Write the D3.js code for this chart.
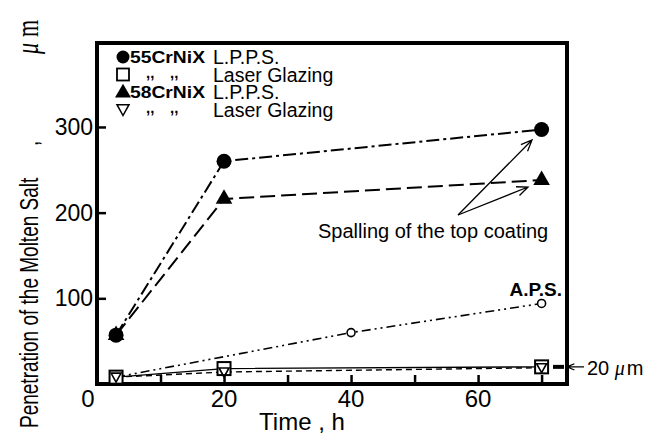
<!DOCTYPE html>
<html><head><meta charset="utf-8">
<script src="https://cdn.jsdelivr.net/npm/d3@7/dist/d3.min.js"></script>
<style>body{margin:0;background:#fff}svg{display:block}text{font-family:"Liberation Sans",Arial,Helvetica,sans-serif;fill:#000}</style>
</head><body><svg id="c" width="647" height="434"></svg>
<script>
// Data
const timesLPPS = [3, 20, 70];
const lpps55 = [57, 260, 297];
const lpps58 = [57, 216, 238];
const timesLaser = [3, 20, 70];
const laser55 = [8, 18, 20];
const laser58 = [8, 14, 19];
const timesAPS = [3, 40, 70];
const aps = [8, 60, 94];
const xTicks = [0, 10, 20, 30, 40, 50, 60, 70];
const xTickLabels = ["0", "", "20", "", "40", "", "60", ""];
const yTicks = [100, 200, 300];
const yTickLabels = ["100", "200", "300"];

const svg = d3.select("#c");
const L = 97, R = 567, T = 43, B = 384;
const x = d3.scaleLinear().domain([0, 74]).range([L, R]);
const y = d3.scaleLinear().domain([0, 398]).range([B, T]);

// frame
svg.append("rect").attr("x", L).attr("y", T).attr("width", R - L).attr("height", B - T)
  .attr("fill", "none").attr("stroke", "#000").attr("stroke-width", 4);

// x axis ticks (inward)
const xa = d3.axisTop(x).tickValues(xTicks).tickSize(9).tickFormat("");
const gx = svg.append("g").attr("transform", `translate(0,${B})`).call(xa);
gx.select(".domain").remove();
gx.selectAll(".tick line").attr("stroke-width", 2.5);
svg.selectAll(".xl").data(xTicks).enter().append("text")
  .attr("x", d => x(d) - (d === 0 ? 9 : 0)).attr("y", 407)
  .attr("text-anchor", "middle").attr("font-size", 24)
  .text((d, i) => xTickLabels[i]);

// y axis ticks (inward)
const ya = d3.axisRight(y).tickValues(yTicks).tickSize(9).tickFormat("");
const gy = svg.append("g").attr("transform", `translate(${L},0)`).call(ya);
gy.select(".domain").remove();
gy.selectAll(".tick line").attr("stroke-width", 2.5);
svg.selectAll(".yl").data(yTicks).enter().append("text")
  .attr("x", 93).attr("y", d => y(d) + 8)
  .attr("text-anchor", "end").attr("font-size", 23)
  .text((d, i) => yTickLabels[i]);

// axis titles
svg.append("text").attr("x", 302).attr("y", 430).attr("text-anchor", "middle")
  .attr("font-size", 24).text("Time , h");
const yt = svg.append("text").attr("transform", "translate(38,428) rotate(-90) scale(1,1.4)").attr("font-size", 19);
yt.append("tspan").text("Penetration of the Molten Salt");
yt.append("tspan").attr("x", 282).text(",");
yt.append("tspan").attr("x", 374).attr("font-size", 22).attr("font-family", "Liberation Serif,serif").attr("font-style", "italic").text("μ");
yt.append("tspan").attr("dx", 6).attr("font-size", 22).attr("font-family", "Liberation Serif,serif").text("m");

// lines
const line = (xs, ys) => d3.line().x((d, i) => x(xs[i])).y(d => y(d))(ys);
svg.append("path").attr("d", line(timesAPS, aps)).attr("fill", "none").attr("stroke", "#000")
  .attr("stroke-width", 1.6).attr("stroke-dasharray", "9,4,2,4,2,4");
svg.append("path").attr("d", line(timesLaser, laser55)).attr("fill", "none").attr("stroke", "#000")
  .attr("stroke-width", 1.4);
svg.append("path").attr("d", line(timesLaser, laser58)).attr("fill", "none").attr("stroke", "#000")
  .attr("stroke-width", 1.4).attr("stroke-dasharray", "6,4");
svg.append("path").attr("d", line(timesLPPS, lpps55)).attr("fill", "none").attr("stroke", "#000")
  .attr("stroke-width", 2).attr("stroke-dasharray", "13,4,3,4");
svg.append("path").attr("d", line(timesLPPS, lpps58)).attr("fill", "none").attr("stroke", "#000")
  .attr("stroke-width", 2).attr("stroke-dasharray", "15,6");

// markers
const sym = (type, size) => d3.symbol().type(type).size(size)();
const downTri = s => `M${-s/2},${-s*0.4}L${s/2},${-s*0.4}L0,${s*0.5}Z`;
svg.selectAll(".m58").data(lpps58).enter().append("path")
  .attr("transform", (d, i) => `translate(${x(timesLPPS[i])},${y(d)})`)
  .attr("d", sym(d3.symbolTriangle, 120)).attr("fill", "#000");
svg.selectAll(".m55").data(lpps55).enter().append("circle")
  .attr("cx", (d, i) => x(timesLPPS[i])).attr("cy", d => y(d)).attr("r", 7.5).attr("fill", "#000");
svg.selectAll(".ma").data(aps.slice(1)).enter().append("circle")
  .attr("cx", (d, i) => x(timesAPS[i + 1])).attr("cy", d => y(d)).attr("r", 4)
  .attr("fill", "#fff").attr("stroke", "#000").attr("stroke-width", 1.6);
svg.selectAll(".ms").data(laser55).enter().append("rect")
  .attr("x", (d, i) => x(timesLaser[i]) - 6.5).attr("y", d => y(d) - 6.5)
  .attr("width", 13).attr("height", 13).attr("fill", "#fff").attr("stroke", "#000").attr("stroke-width", 2);
svg.selectAll(".mt").data(laser58).enter().append("path")
  .attr("transform", (d, i) => `translate(${x(timesLaser[i])},${y(d)})`)
  .attr("d", downTri(10)).attr("fill", "none").attr("stroke", "#000").attr("stroke-width", 1.6);

// legend
const legRows = [57, 74.5, 92, 109.5];
const lx = 123;
svg.append("circle").attr("cx", lx).attr("cy", legRows[0]).attr("r", 6.5).attr("fill", "#000");
svg.append("rect").attr("x", lx - 6).attr("y", legRows[1] - 6).attr("width", 12).attr("height", 12)
  .attr("fill", "none").attr("stroke", "#000").attr("stroke-width", 1.8);
svg.append("path").attr("transform", `translate(${lx},${legRows[2] + 1})`).attr("d", sym(d3.symbolTriangle, 110)).attr("fill", "#000");
svg.append("path").attr("transform", `translate(${lx},${legRows[3]})`).attr("d", downTri(12))
  .attr("fill", "none").attr("stroke", "#000").attr("stroke-width", 1.5);
const legBold = ["55CrNiX", "", "58CrNiX", ""];
const legText = ["L.P.P.S.", "Laser Glazing", "L.P.P.S.", "Laser Glazing"];
legRows.forEach((ry, i) => {
  if (legBold[i]) svg.append("text").attr("x", 130).attr("y", ry + 6).attr("font-size", 17)
    .attr("font-weight", "bold").attr("textLength", 75).attr("lengthAdjust", "spacingAndGlyphs").text(legBold[i]);
  else {
    svg.append("text").attr("x", 146).attr("y", ry + 3).attr("font-size", 15).attr("font-weight", "bold").text(",,");
    svg.append("text").attr("x", 170).attr("y", ry + 3).attr("font-size", 15).attr("font-weight", "bold").text(",,");
  }
  svg.append("text").attr("x", 213).attr("y", ry + 7).attr("font-size", 19.5).text(legText[i]);
});

// annotations
svg.append("text").attr("x", 562).attr("y", 296).attr("text-anchor", "end")
  .attr("font-size", 19).attr("font-weight", "bold").text("A.P.S.");
svg.append("text").attr("x", 318).attr("y", 238).attr("font-size", 20).text("Spalling of the top coating");
const arrow = (x1, y1, x2, y2, hl) => {
  const a = Math.atan2(y2 - y1, x2 - x1), s = 0.4;
  const p1 = [x2 - hl * Math.cos(a - s), y2 - hl * Math.sin(a - s)];
  const p2 = [x2 - hl * Math.cos(a + s), y2 - hl * Math.sin(a + s)];
  svg.append("path").attr("d", `M${x1},${y1}L${x2},${y2}M${p1}L${x2},${y2}L${p2}`)
    .attr("fill", "none").attr("stroke", "#000").attr("stroke-width", 1.3);
};
arrow(458, 215, 532, 140, 12);
arrow(458, 215, 528, 187, 12);
svg.append("line").attr("x1", 553).attr("x2", 564).attr("y1", y(20)).attr("y2", y(20))
  .attr("stroke", "#000").attr("stroke-width", 4);
arrow(584, y(20), 567, y(20), 8);
const t20 = svg.append("text").attr("x", 587).attr("y", y(20) + 8).attr("font-size", 20);
t20.append("tspan").text("20 ");
t20.append("tspan").attr("font-family", "Liberation Serif,serif").attr("font-style", "italic").text("μ");
t20.append("tspan").attr("dx", 2).text("m");
</script></body></html>
